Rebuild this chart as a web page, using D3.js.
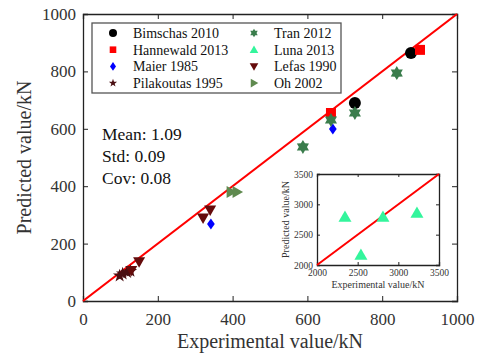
<!DOCTYPE html>
<html>
<head>
<meta charset="utf-8">
<script src="https://cdn.jsdelivr.net/npm/d3@7"></script>
<style>
  body { margin: 0; background: #fff; }
</style>
</head>
<body>
<div id="chart"></div>
<script>
var width = 480, height = 356;
var serif = "'Liberation Serif', 'DejaVu Serif', serif";

// data (experimental, predicted) in kN
var bimschas = [[727, 690], [877, 864]];
var hannewald = [[663, 655], [901, 875]];
var maier = [[668, 599], [342, 268]];
var pilakoutas = [[98, 88], [106, 95], [118, 100], [127, 104]];
var tran = [[588, 537], [663, 631], [727, 655], [839, 794]];
var luna = [[2344, 2792], [2540, 2165], [2811, 2792], [3229, 2858]];
var lefas = [[150, 137], [129, 106], [321, 289], [340, 317]];
var oh = [[396, 380], [412, 380]];

var mainTicks = [0, 200, 400, 600, 800, 1000];
var insetTicks = [2000, 2500, 3000, 3500];
var stats = ["Mean: 1.09", "Std: 0.09", "Cov: 0.08"];

var series = [
  {name: "Bimschas 2010", data: bimschas, shape: "circle", color: "#000000", size: 6},
  {name: "Hannewald 2013", data: hannewald, shape: "square", color: "#ff0000", size: 5},
  {name: "Maier 1985", data: maier, shape: "diamond", color: "#0000ff", size: 5.5},
  {name: "Pilakoutas 1995", data: pilakoutas, shape: "star", color: "#4a0f12", size: 7},
  {name: "Tran 2012", data: tran, shape: "hexagram", color: "#3a7d4c", size: 7},
  {name: "Luna 2013", data: luna, shape: "up", color: "#33f59c", size: 6, inset: true},
  {name: "Lefas 1990", data: lefas, shape: "down", color: "#650b0b", size: 6},
  {name: "Oh 2002", data: oh, shape: "right", color: "#5f8a4f", size: 6}
];

function marker(shape, r) {
  if (shape == "circle") return d3.arc()({innerRadius: 0, outerRadius: r, startAngle: 0, endAngle: 2 * Math.PI});
  if (shape == "square") return "M" + (-r) + "," + (-r) + "H" + r + "V" + r + "H" + (-r) + "Z";
  if (shape == "diamond") return "M0," + (-r) + "L" + (r * 0.7) + ",0L0," + r + "L" + (-r * 0.7) + ",0Z";
  if (shape == "up") return "M0," + (-r) + "L" + r + "," + (r * 0.75) + "L" + (-r) + "," + (r * 0.75) + "Z";
  if (shape == "down") return "M0," + r + "L" + r + "," + (-r * 0.75) + "L" + (-r) + "," + (-r * 0.75) + "Z";
  if (shape == "right") return "M" + r + ",0L" + (-r * 0.75) + "," + r + "L" + (-r * 0.75) + "," + (-r) + "Z";
  var n = shape == "star" ? 5 : 6, inner = shape == "star" ? 0.4 : 0.58, pts = [];
  for (var i = 0; i < n * 2; i++) {
    var a = Math.PI * i / n - Math.PI / 2, rr = i % 2 ? r * inner : r;
    pts.push([rr * Math.cos(a), rr * Math.sin(a)]);
  }
  return "M" + pts.join("L") + "Z";
}

var svg = d3.select("#chart").append("svg")
  .attr("width", width)
  .attr("height", height)
  .style("font-family", serif);

svg.append("rect").attr("width", width).attr("height", height).attr("fill", "#fff");

// main plot
var x = d3.scaleLinear().domain([0, 1000]).range([83, 457]);
var y = d3.scaleLinear().domain([0, 1000]).range([301, 14]);

var g = svg.append("g");

function box(gg, xs, ys, ticks, tickLen, fontSize, padX, padY) {
  var x0 = xs.range()[0], x1 = xs.range()[1], y0 = ys.range()[0], y1 = ys.range()[1];
  gg.append("g").attr("transform", "translate(0," + y0 + ")")
    .call(d3.axisBottom(xs).tickValues(ticks).tickSize(-tickLen).tickPadding(padX).tickFormat(d3.format("d")))
    .call(styleAxis, fontSize);
  gg.append("g").attr("transform", "translate(0," + y1 + ")")
    .call(d3.axisTop(xs).tickValues(ticks).tickSize(-tickLen).tickFormat(""))
    .call(styleAxis, fontSize);
  gg.append("g").attr("transform", "translate(" + x0 + ",0)")
    .call(d3.axisLeft(ys).tickValues(ticks).tickSize(-tickLen).tickPadding(padY).tickFormat(d3.format("d")))
    .call(styleAxis, fontSize);
  gg.append("g").attr("transform", "translate(" + x1 + ",0)")
    .call(d3.axisRight(ys).tickValues(ticks).tickSize(-tickLen).tickFormat(""))
    .call(styleAxis, fontSize);
}

function styleAxis(sel, fontSize) {
  sel.attr("font-family", null).attr("font-size", null);
  sel.select(".domain").attr("stroke", "#222").attr("stroke-width", 1.3);
  sel.selectAll(".tick line").attr("stroke", "#222");
  sel.selectAll(".tick text")
    .style("font-family", serif)
    .style("font-size", fontSize + "px")
    .attr("fill", "#333");
}

box(g, x, y, mainTicks, 5, 17, 12, 7);

g.append("line")
  .attr("x1", x(0)).attr("y1", y(0)).attr("x2", x(1000)).attr("y2", y(1000))
  .attr("stroke", "#ff0000").attr("stroke-width", 2.2);

series.forEach(function(s) {
  if (s.inset) return;
  g.selectAll(null).data(s.data).enter().append("path")
    .attr("d", marker(s.shape, s.size))
    .attr("transform", function(d) { return "translate(" + x(d[0]) + "," + y(d[1]) + ")"; })
    .attr("fill", s.color);
});

svg.append("text")
  .attr("x", x(500)).attr("y", 348)
  .attr("text-anchor", "middle").style("font-size", "20px").attr("fill", "#333")
  .text("Experimental value/kN");

svg.append("text")
  .attr("transform", "translate(31," + y(500) + ") rotate(-90)")
  .attr("text-anchor", "middle").style("font-size", "20px").attr("fill", "#333")
  .text("Predicted value/kN");

svg.selectAll(".stat").data(stats).enter().append("text")
  .attr("x", 102).attr("y", function(d, i) { return 140 + i * 22; })
  .style("font-size", "17.5px").attr("fill", "#111")
  .text(function(d) { return d; });

// legend
var legend = svg.append("g");
legend.append("rect")
  .attr("x", 92).attr("y", 23).attr("width", 249).attr("height", 70)
  .attr("fill", "#fff").attr("stroke", "#555").attr("stroke-width", 1.3);

var item = legend.selectAll(".item").data(series).enter().append("g")
  .attr("transform", function(d, i) {
    return "translate(" + (i < 4 ? 113 : 254) + "," + (33 + (i % 4) * 16.7) + ")";
  });
item.append("path")
  .attr("d", function(d) { return marker(d.shape, d.shape == "circle" ? 4 : d.shape == "square" ? 3.3 : 4.3); })
  .attr("fill", function(d) { return d.color; });
item.append("text")
  .attr("x", 20).attr("dy", "0.36em").style("font-size", "14px").attr("fill", "#111")
  .text(function(d) { return d.name; });

// inset
var xi = d3.scaleLinear().domain([2000, 3500]).range([317, 439]);
var yi = d3.scaleLinear().domain([2000, 3500]).range([265, 174]);
var gi = svg.append("g");
gi.append("rect").attr("x", 317).attr("y", 174).attr("width", 122).attr("height", 91).attr("fill", "#fff");
box(gi, xi, yi, insetTicks, 3, 9.5, 4, 4);
gi.append("line")
  .attr("x1", xi(2000)).attr("y1", yi(2000)).attr("x2", xi(3500)).attr("y2", yi(3500))
  .attr("stroke", "#ff0000").attr("stroke-width", 2);
gi.selectAll(null).data(luna).enter().append("path")
  .attr("d", marker("up", 6.5))
  .attr("transform", function(d) { return "translate(" + xi(d[0]) + "," + yi(d[1]) + ")"; })
  .attr("fill", "#33f59c");
gi.append("text")
  .attr("x", xi(2750)).attr("y", 288)
  .attr("text-anchor", "middle").style("font-size", "10px").attr("fill", "#333")
  .text("Experimental value/kN");
gi.append("text")
  .attr("transform", "translate(289," + yi(2750) + ") rotate(-90)")
  .attr("text-anchor", "middle").style("font-size", "10px").attr("fill", "#333")
  .text("Predicted value/kN");
</script>
</body>
</html>
